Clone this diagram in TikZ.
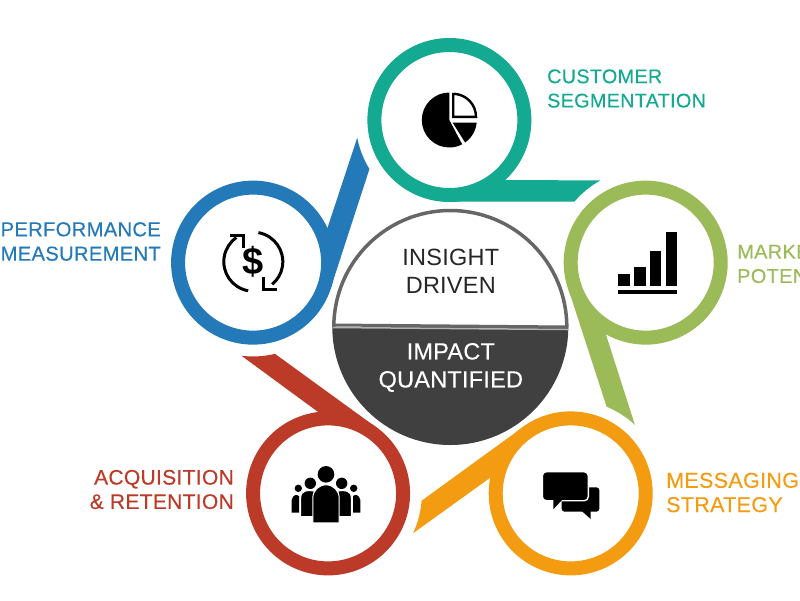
\documentclass[tikz,border=0pt]{standalone}
\usepackage{fontspec}
\setmainfont{Liberation Sans}
\newfontfamily\hubfont[LetterSpace=1]{Liberation Sans}
\newfontfamily\hubbold[LetterSpace=1,FakeBold=0.3]{Liberation Sans}
\newfontfamily\tagfont[LetterSpace=1.5,FakeBold=0.3]{Liberation Sans}
\definecolor{ringteal}{HTML}{14A991}
\definecolor{ringgreen}{HTML}{9BBB59}
\definecolor{ringorange}{HTML}{F39C12}
\definecolor{ringred}{HTML}{BC3A28}
\definecolor{ringblue}{HTML}{2479B8}
\definecolor{halfdark}{HTML}{404040}
\definecolor{halfline}{HTML}{666666}
\tikzset{
  tag/.style={font=\tagfont\fontsize{#1}{24.3}\selectfont,inner sep=0pt},
  hub/.style={font=#1\fontsize{23.5}{28}\selectfont,align=center},
}
\begin{document}
\begin{tikzpicture}[x=1pt,y=-1pt]
  \path[use as bounding box,clip] (0,0) rectangle (800,600);
  % rings with their tails, turned round the middle
  \foreach \i/\col in {0/ringteal,1/ringgreen,2/ringorange,3/ringred,4/ringblue}{
    \begin{scope}[shift={(449.4,326.4)},rotate=-72*\i]
      \fill[\col] (0,-124.7) -- (125,-124.7) arc (220.3:241:93.3) -- (55.4,-146.4) -- cycle;
      \draw[\col,line width=14] (0,-206.4) circle (75);
    \end{scope}
  }
  % middle
  \fill[white] (450.3,327) circle (118);
  \fill[halfdark] (332.3,327) arc (180:0:118) -- cycle;
  \draw[halfline,line width=3.5] (450.3,327) ++(-116.5,0) arc (180:360:116.5);
  \draw[halfline,line width=3] (333,325) -- (568,327);
  \draw[gray!60,line width=1.5] (333,327.5) -- (568,329.5);
  \node[hub=\hubfont,text=black!85] (insight) at (450.8,271.5) {INSIGHT\\DRIVEN};
  \node[hub=\hubbold,text=white] (impact) at (450.8,367.5) {IMPACT\\QUANTIFIED};
  % pie
  \fill (449.3,92.5) arc (270:62:27.5) -- (449.3,120) -- cycle;
  \fill (449.3,120) ++(5.6:27.5) arc (5.6:55:27.5) -- (452.7,122.7) -- cycle;
  \draw[line width=2.4,fill=white] (453.2,94) -- (453.2,116.8) -- (476,116.8) arc (0:-85:23) -- cycle;
  % bars
  \fill (618.3,274.3) rectangle (630,286.3);
  \fill (634,266.7) rectangle (645.7,286.3);
  \fill (649.7,251) rectangle (661.3,286.3);
  \fill (665.7,231.7) rectangle (677.3,286.3);
  \fill (618.3,290) rectangle (677.3,294);
  % speech bubbles
  \fill[rounded corners=3] (561.7,487.3) rectangle (599.3,511.7);
  \fill (581.7,511) -- (590.7,519) -- (590.7,511) -- cycle;
  \filldraw[draw=white,line width=1.4,rounded corners=4] (542.3,471.7) rectangle (588.3,500.7);
  \fill (553.3,500) -- (553.3,509.3) -- (562,500) -- cycle;
  % people
  \foreach \s in {1,-1}{
    \begin{scope}[shift={(326,0)},xscale=\s]
      \fill (27.7,488.3) circle (3.7);
      \fill (27,512.7) -- (27,496) .. controls (29,494.5) and (33,494) .. (34.3,500) -- (34.3,512.7) -- cycle;
      \fill (15.7,483.3) circle (5.7);
      \draw[white,line width=1,fill=black] (12,516.7) -- (12,491) .. controls (18,490) and (25.3,490) .. (25.3,498) -- (25.3,516.7) -- cycle;
    \end{scope}
  }
  \fill (326,474.3) circle (8.3);
  \draw[white,line width=1,fill=black] (312.8,522.8) -- (312.8,498) arc (180:360:13.2) -- (339.2,522.8) -- cycle;
  % money
  \draw[line width=3] (253.3,261.7) ++(100:29.5) arc (100:235:29.5);
  \draw[line width=3] (253.3,261.7) ++(280:29.5) arc (280:410:29.5);
  \draw[line width=3] (230,235) -- (243.3,235) -- (243.3,248.3);
  \draw[line width=3] (276.7,289.3) -- (263.3,289.3) -- (263.3,276.7);
  \node[font=\bfseries\fontsize{38}{38}\selectfont,inner sep=0pt] (dollar) at (253.3,261.7) {\$};
  % labels
  \node[tag=19.8,text=ringteal,anchor=west,align=left] (customer) at (547,88.5) {CUSTOMER\\SEGMENTATION};
  \node[tag=20,text=ringgreen,anchor=west,align=left] (market) at (737,264) {MARKET\\POTENTIAL};
  \node[tag=21.5,text=ringorange,anchor=west,align=left] (messaging) at (666,492.5) {MESSAGING\\STRATEGY};
  \node[tag=21,text=ringred,anchor=east,align=right] (acquisition) at (234,489.5) {ACQUISITION\\\& RETENTION};
  \node[tag=20.2,text=ringblue,anchor=east,align=right] (performance) at (161,241.5) {PERFORMANCE\\MEASUREMENT};
\end{tikzpicture}
\end{document}
